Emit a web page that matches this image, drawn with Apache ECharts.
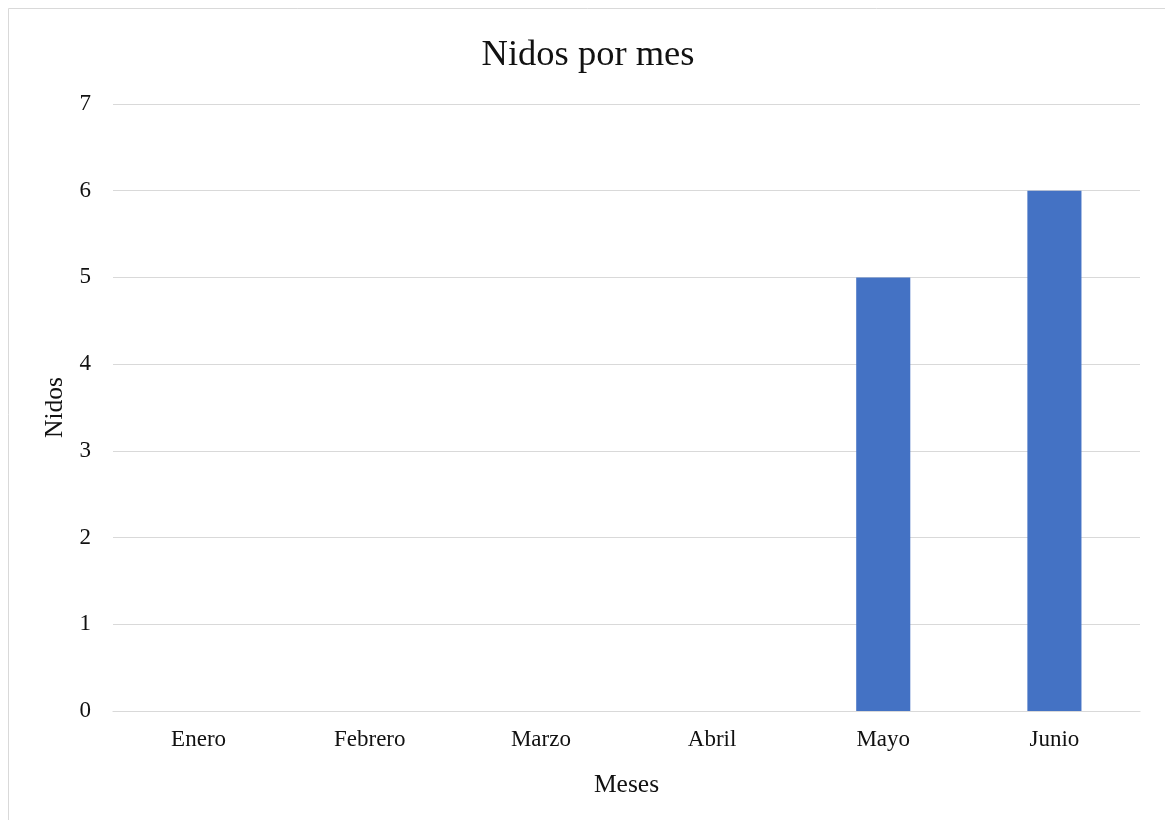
<!DOCTYPE html>
<html>
<head>
<meta charset="utf-8">
<script src="https://cdn.jsdelivr.net/npm/echarts@6/dist/echarts.min.js"></script>
<style>
  html, body { margin: 0; padding: 0; background: #fff; }
  #chart { width: 1165px; height: 820px; }
</style>
</head>
<body>
<div id="chart"></div>
<script>
// Monthly nest counts
const months = ['Enero', 'Febrero', 'Marzo', 'Abril', 'Mayo', 'Junio'];
const nests = [0, 0, 0, 0, 5, 6];
const yTicks = [0, 1, 2, 3, 4, 5, 6, 7];

const serif = "'Liberation Serif', 'Times New Roman', serif";
const textColor = '#111';
const lineColor = '#d9d9d9';

const chart = echarts.init(document.getElementById('chart'), null, { renderer: 'canvas' });

chart.setOption({
  animation: false,
  backgroundColor: '#fff',
  title: {
    text: 'Nidos por mes',
    left: 583,
    top: 32,
    textAlign: 'center',
    textStyle: { fontFamily: serif, fontSize: 36.5, fontWeight: 'normal', color: textColor }
  },
  graphic: [{
    type: 'rect',
    silent: true,
    z: -1,
    shape: { x: 8.5, y: 8.5, width: 1300, height: 1000 },
    style: { fill: 'none', stroke: lineColor, lineWidth: 1 }
  }],
  grid: { left: 113, right: 25, top: 104, bottom: 109, containLabel: false },
  xAxis: {
    type: 'category',
    data: months,
    name: 'Meses',
    nameLocation: 'middle',
    nameGap: 61,
    nameTextStyle: { fontFamily: serif, fontSize: 25.5, color: textColor },
    axisLine: { show: true, lineStyle: { color: lineColor, width: 1.2 } },
    axisTick: { show: false },
    axisLabel: { fontFamily: serif, fontSize: 23, color: textColor, margin: 17 }
  },
  yAxis: {
    type: 'value',
    min: yTicks[0],
    max: yTicks[yTicks.length - 1],
    interval: 1,
    name: 'Nidos',
    nameLocation: 'middle',
    nameGap: 44,
    nameTextStyle: { fontFamily: serif, fontSize: 25.5, color: textColor },
    axisLine: { show: false },
    axisTick: { show: false },
    axisLabel: { fontFamily: serif, fontSize: 23, color: textColor, margin: 22 },
    splitLine: { show: true, lineStyle: { color: lineColor, width: 1.2 } }
  },
  series: [{
    type: 'bar',
    data: nests,
    barWidth: '31.6%',
    itemStyle: { color: '#4472C4' }
  }]
});
</script>
</body>
</html>
